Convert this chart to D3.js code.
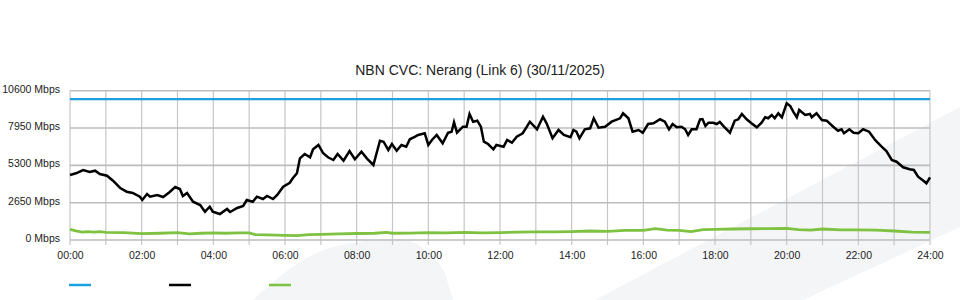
<!DOCTYPE html>
<html lang="en">
    <head>
        <meta charset="utf-8">
        <title>NBN CVC: Nerang (Link 6)</title>
        <style>
            body {
                margin: 0;
                background-color: white;
                font-family: "Liberation Sans", Arial, sans-serif;
            }
            svg { display: block; }
            .tick text { font-size: 10.5px; fill: #222; font-family: "Liberation Sans", Arial, sans-serif; }
            .domain { display: none; }
        </style>
    </head>
    <body>
        <svg width="960" height="300"></svg>
        <script src="https://cdn.jsdelivr.net/npm/d3@7"></script>
        <script>

            // minutes since midnight / Mbps
            var trafficMinutes = [0, 10, 22, 33, 42, 50, 62, 72, 84, 95, 105, 117, 121, 129, 134, 146, 156, 167, 176, 184,
                189, 196, 206, 218, 226, 234, 239, 251, 263, 268, 280, 290, 296, 306, 313, 323, 330, 340, 347, 357,
                368, 373, 380, 385, 393, 402, 407, 416, 424, 432, 441, 448, 458, 468, 477, 488, 497, 508, 519, 525,
                533, 539, 547, 555, 563, 569, 578, 583, 594, 600, 606, 614, 624, 633, 639, 643, 648, 658, 664, 669,
                675, 682, 688, 693, 700, 709, 714, 726, 732, 740, 748, 758, 765, 770, 782, 792, 798, 808, 818, 827,
                838, 843, 848, 853, 862, 871, 877, 885, 896, 907, 921, 926, 935, 942, 952, 959, 968, 977, 988, 996,
                1003, 1009, 1016, 1024, 1030, 1035, 1041, 1049, 1055, 1059, 1064, 1069, 1077, 1083, 1088, 1095, 1105, 1113, 1119, 1125,
                1133, 1141, 1150, 1158, 1164, 1169, 1175, 1180, 1186, 1192, 1200, 1206, 1211, 1217, 1221, 1231, 1239, 1242, 1250, 1259,
                1267, 1278, 1286, 1292, 1296, 1305, 1312, 1320, 1328, 1338, 1348, 1359, 1367, 1376, 1384, 1395, 1406, 1413, 1420, 1429,
                1434, 1440];
            var trafficMbps = [4615, 4736, 4970, 4828, 4920, 4686, 4565, 4210, 3692, 3429, 3337, 3074, 2840, 3266, 3074, 3195, 3053, 3408, 3763, 3621,
                3124, 3337, 2719, 2485, 2009, 2364, 2009, 1846, 2201, 1988, 2272, 2414, 2840, 2719, 3074, 2911, 3124, 2911, 3195, 3784,
                4068, 4381, 4736, 5800, 6106, 5872, 6440, 6745, 6156, 5872, 5680, 6106, 5630, 6319, 5730, 6269, 5801, 5325, 7050, 6979,
                6390, 6816, 6340, 6745, 6624, 7150, 7334, 7455, 7576, 6745, 7100, 7455, 6866, 7618, 7689, 8357, 7618, 8044, 8044, 8946,
                8399, 8470, 8044, 6979, 6816, 6440, 6745, 6624, 7100, 6908, 7334, 7576, 8044, 8399, 7860, 8754, 8286, 7221, 7810, 7455,
                7292, 7810, 7689, 7221, 7860, 7931, 8641, 7973, 8044, 8399, 8641, 8996, 8641, 7689, 7810, 7618, 8236, 8286, 8570, 8399,
                7860, 8236, 8002, 8044, 7860, 7455, 7860, 7860, 8570, 8591, 8094, 8328, 8328, 8236, 8378, 8044, 7618, 8470, 8570, 8946,
                8570, 8286, 8002, 8328, 8712, 8641, 8875, 8641, 8996, 8712, 9706, 9514, 9109, 8712, 9230, 8875, 8946, 8712, 8996, 8520,
                8470, 8044, 7760, 7860, 7576, 7860, 7618, 7576, 7860, 7689, 7100, 6624, 6319, 5680, 5559, 5162, 5020, 4970, 4494, 4210,
                4026, 4452];

            var otherMinutes = [0, 10, 20, 30, 40, 50, 60, 90, 120, 150, 180, 200, 220, 240, 260, 280, 300, 310, 330, 360,
                380, 400, 420, 450, 480, 510, 530, 540, 570, 600, 630, 660, 690, 720, 750, 780, 810, 840, 870, 900,
                930, 960, 980, 1000, 1020, 1040, 1060, 1080, 1110, 1140, 1170, 1200, 1220, 1240, 1260, 1290, 1320, 1350, 1380, 1410,
                1440];
            var otherMbps = [760, 650, 560, 600, 560, 590, 540, 520, 450, 480, 520, 430, 480, 500, 480, 510, 500, 380, 360, 330,
                310, 380, 400, 430, 460, 480, 540, 480, 490, 520, 500, 540, 510, 530, 560, 580, 570, 600, 640, 610,
                680, 690, 800, 700, 690, 600, 730, 760, 780, 800, 810, 830, 730, 700, 780, 720, 720, 700, 640, 560,
                540];

            var capacityMbps = 10000;

            var yTicks = [0, 2650, 5300, 7950, 10600];
            var xTicks = [0, 120, 240, 360, 480, 600, 720, 840, 960, 1080, 1200, 1320, 1440];
            var hourLines = d3.range(0, 1441, 60);
            var legendColors = ["#1ba1e2", "#000000", "#7fc241"];

            var svg = d3.select("svg"),
                plotLeft = 70, plotRight = 930, plotTop = 90.7, plotBottom = 240;

            // faint watermark shapes in the background
            var bg = svg.append("g").attr("fill", "#f4f5f7");
            bg.append("path")
                .attr("d", "M253,300 Q300,255 333,247 Q370,238 400,239 L413,242 Q433,252 445,273 L453,300 Z");
            bg.append("path")
                .attr("d", "M595,300 L960,107 L960,227 L803,300 Z");

            var x = d3.scaleLinear().domain([0, 1440]).range([plotLeft, plotRight]);
            var y = d3.scaleLinear().domain([0, 10600]).range([plotBottom, plotTop]);

            svg.append("text")
                .attr("x", 480)
                .attr("y", 75)
                .attr("text-anchor", "middle")
                .style("font-size", "14px")
                .style("fill", "#222")
                .text("NBN CVC: Nerang (Link 6) (30/11/2025)");

            // grid
            svg.append("g")
                .selectAll("line").data(hourLines).enter()
                .append("line")
                    .attr("x1", function(d) { return x(d); })
                    .attr("x2", function(d) { return x(d); })
                    .attr("y1", plotTop)
                    .attr("y2", plotBottom + 5)
                    .style("stroke", "#c6c6c6")
                    .style("stroke-width", 1.2);

            svg.append("g")
                .selectAll("line").data(yTicks).enter()
                .append("line")
                    .attr("x1", plotLeft)
                    .attr("x2", plotRight)
                    .attr("y1", function(d) { return y(d); })
                    .attr("y2", function(d) { return y(d); })
                    .style("stroke", "#bcbcbc")
                    .style("stroke-width", 1.6);

            // axes (labels only)
            svg.append("g")
                .attr("transform", "translate(" + (plotLeft - 10) + ",-2)")
                .call(d3.axisLeft(y).tickValues(yTicks).tickSize(0).tickPadding(0)
                    .tickFormat(function(d) { return d + " Mbps"; }));

            svg.append("g")
                .attr("transform", "translate(0," + (plotBottom + 10) + ")")
                .call(d3.axisBottom(x).tickValues(xTicks).tickSize(0).tickPadding(2)
                    .tickFormat(function(d) { return d3.format("02d")(d / 60) + ":00"; }));

            // series
            var line = d3.line()
                .x(function(d) { return x(d[0]); })
                .y(function(d) { return y(d[1]); });

            svg.append("line")
                .attr("x1", x(0)).attr("x2", x(1440))
                .attr("y1", y(capacityMbps)).attr("y2", y(capacityMbps))
                .style("stroke", legendColors[0])
                .style("stroke-width", 2.2);

            svg.append("path")
                .datum(d3.zip(otherMinutes, otherMbps))
                .attr("d", line)
                .style("fill", "none")
                .style("stroke", legendColors[2])
                .style("stroke-width", 2.8);

            svg.append("path")
                .datum(d3.zip(trafficMinutes, trafficMbps))
                .attr("d", line)
                .style("fill", "none")
                .style("stroke", legendColors[1])
                .style("stroke-width", 2.5);

            // legend swatches, no labels in the source
            svg.append("g")
                .selectAll("line").data(legendColors).enter()
                .append("line")
                    .attr("x1", function(d, i) { return 69 + i * 100; })
                    .attr("x2", function(d, i) { return 91 + i * 100; })
                    .attr("y1", 285)
                    .attr("y2", 285)
                    .style("stroke", function(d) { return d; })
                    .style("stroke-width", 2.5);
        </script>
    </body>
</html>
